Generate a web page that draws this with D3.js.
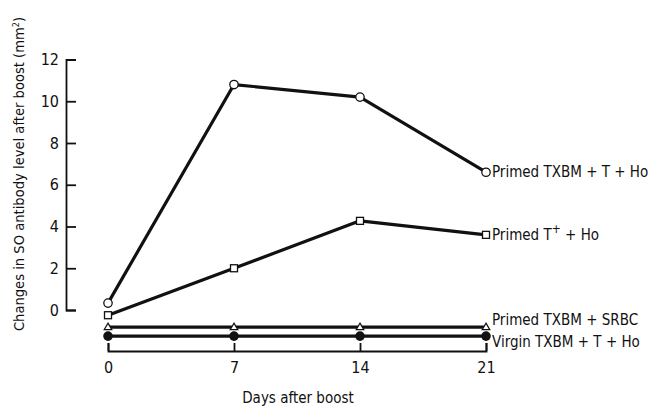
<!DOCTYPE html>
<html>
<head>
<meta charset="utf-8">
<script src="https://cdn.jsdelivr.net/npm/d3@7"></script>
<style>
  body { margin: 0; background: #fff; }
  svg { display: block; }
  text { font-family: "Liberation Sans Narrow", "DejaVu Sans Condensed", "Roboto Condensed", sans-serif; fill: #111; }
</style>
</head>
<body>
<div id="chart"></div>
<script>
// days after boost
const days = [0, 7, 14, 21];
const xTicks = [0, 7, 14, 21];
const yTicks = [0, 2, 4, 6, 8, 10, 12];

// series values (mm^2)
const primedFull = [0.33, 10.8, 10.2, 6.6];
const primedT = [-0.25, 2.0, 4.27, 3.6];
const primedSrbc = [-0.82, -0.82, -0.82, -0.82];
const virgin = [-1.25, -1.25, -1.25, -1.25];

const seriesNames = ['Primed TXBM + T + Ho', 'Primed T+ + Ho', 'Primed TXBM + SRBC', 'Virgin TXBM + T + Ho'];
const seriesMarks = ['openCircle', 'square', 'triangle', 'filledCircle'];
const seriesValues = [primedFull, primedT, primedSrbc, virgin];

const W = 656, H = 409;
const svg = d3.select('#chart').append('svg').attr('width', W).attr('height', H);

const x = d3.scaleLinear().domain([0, 21]).range([108, 486]);
const y = d3.scaleLinear().domain([0, 12]).range([310, 59.5]);

// Y axis, ticks pointing inward
const yAxis = svg.append('g')
  .attr('transform', 'translate(66,0)')
  .call(d3.axisLeft(y).tickValues(yTicks).tickSizeInner(-10).tickSizeOuter(-10).tickPadding(7));
yAxis.selectAll('path, line').attr('stroke', '#111').attr('stroke-width', 1.8);
yAxis.selectAll('text').attr('font-size', 16).style('font-family', null);

// X axis, separate bracket below the data
const xAxis = svg.append('g')
  .attr('transform', 'translate(0,351)')
  .call(d3.axisBottom(x).tickValues(xTicks).tickSizeInner(-8).tickSizeOuter(-8).tickPadding(11));
xAxis.selectAll('path, line').attr('stroke', '#111').attr('stroke-width', 1.8);
xAxis.selectAll('text').attr('font-size', 16).style('font-family', null);

svg.selectAll('.domain').attr('fill', 'none');

// axis titles
svg.append('text')
  .attr('transform', 'translate(24,174) rotate(-90)')
  .attr('text-anchor', 'middle')
  .attr('font-size', 14.6)
  .html('Changes in SO antibody level after boost (mm<tspan baseline-shift="super" font-size="9">2</tspan>)');

svg.append('text')
  .attr('x', 298).attr('y', 403)
  .attr('text-anchor', 'middle')
  .attr('font-size', 15)
  .text('Days after boost');

const line = d3.line().x((d, i) => x(days[i])).y(d => y(d));

const series = seriesNames.map((name, k) => ({ name, mark: seriesMarks[k], values: seriesValues[k] }));

series.forEach(s => {
  svg.append('path')
    .datum(s.values)
    .attr('d', line)
    .attr('fill', 'none')
    .attr('stroke', '#111')
    .attr('stroke-width', 3.2)
    .attr('stroke-linejoin', 'round');

  const pts = svg.append('g').selectAll('g')
    .data(s.values)
    .join('g')
    .attr('transform', (d, i) => `translate(${x(days[i])},${y(d)})`);

  if (s.mark === 'openCircle') {
    pts.append('circle').attr('r', 4.2).attr('fill', '#fff').attr('stroke', '#111').attr('stroke-width', 1.3);
  } else if (s.mark === 'filledCircle') {
    pts.append('circle').attr('r', 4.8).attr('fill', '#111');
  } else if (s.mark === 'square') {
    pts.append('rect').attr('x', -3.5).attr('y', -3.5).attr('width', 7).attr('height', 7)
      .attr('fill', '#fff').attr('stroke', '#111').attr('stroke-width', 1.3);
  } else if (s.mark === 'triangle') {
    pts.append('path').attr('d', 'M0,-4 L3.8,2.6 L-3.8,2.6 Z')
      .attr('fill', '#fff').attr('stroke', '#111').attr('stroke-width', 1.2);
  }
});

// direct labels at day 21
const labelOffsets = [0, 0, -7, 6];
series.forEach((s, k) => {
  const t = svg.append('text')
    .attr('x', x(21) + 6)
    .attr('y', y(s.values[3]) + labelOffsets[k])
    .attr('dy', '0.35em')
    .attr('font-size', 15);
  if (k === 1) {
    t.append('tspan').text('Primed T');
    t.append('tspan').attr('baseline-shift', 'super').attr('font-size', 12).text('+');
    t.append('tspan').text('  + Ho');
  } else {
    t.text(s.name);
  }
});
</script>
</body>
</html>
